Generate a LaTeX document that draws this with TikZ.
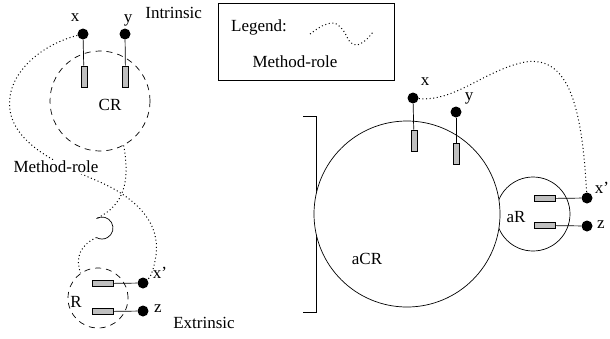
\documentclass[tikz,border=0pt]{standalone}
\usepackage{fontspec}
\setmainfont{Liberation Serif}
\usetikzlibrary{positioning}

\tikzset{
  dot/.style={circle, fill=black, inner sep=0pt, minimum size=11pt},
  vport/.style={rectangle, draw, fill=black!25, inner sep=0pt, minimum width=6pt, minimum height=21pt},
  hport/.style={rectangle, draw, fill=black!25, inner sep=0pt, minimum width=21pt, minimum height=6pt},
  role/.style={circle, draw, dash pattern=on 6pt off 5pt, inner sep=0pt},
  player/.style={circle, draw, fill=white, inner sep=0pt},
  method/.style={dash pattern=on 1pt off 2.6pt, line width=1pt},
  lbl/.style={inner sep=0pt}
}

\begin{document}
\begin{tikzpicture}[x=1pt, y=-1pt, line width=0.7pt, font=\fontsize{17}{20}\selectfont]
    \useasboundingbox (0,0) rectangle (610,338);

    % intrinsic role (left, top)
    \node[role, minimum size=100pt] (cr) at (100,101) {};
    \node[lbl] (crlab) at (110,105) {CR};
    \node[dot] (xl) at (83,34) {};
    \node[dot] (yl) at (125,34) {};
    \node[vport] (pxl) at (84,76.5) {};
    \node[vport] (pyl) at (125.5,76.5) {};
    \draw (xl) -- (pxl);
    \draw (yl) -- (pyl);
    \node[lbl] (xllab) at (75,18) {x};
    \node[lbl] (yllab) at (128,20) {y};
    \node[lbl, anchor=west] (intr) at (145,13) {Intrinsic};

    % extrinsic role (left, bottom)
    \node[role, minimum size=60pt] (rr) at (98,298) {};
    \node[lbl] (rlab) at (76,302) {R};
    \node[hport] (pxpl) at (102.5,283.5) {};
    \node[hport] (pzl) at (102.5,311.5) {};
    \node[dot] (xpl) at (143,283) {};
    \node[dot] (zl) at (143,311) {};
    \draw (pxpl) -- (xpl);
    \draw (pzl) -- (zl);
    \node[lbl] (xpllab) at (160,273) {x'};
    \node[lbl] (zllab) at (158,309) {z};
    \node[lbl] (extr) at (204,323) {Extrinsic};

    % socket between the two roles
    \coordinate (sockin) at (96.5,218.5);
    \coordinate (sockout) at (96.5,237.5);
    \draw (sockin) arc[start angle=120, end angle=-120, radius=11pt];

    % method-role links
    \draw[method] (xl) .. controls (40,45) and (5,75) .. (10,110)
        .. controls (15,145) and (60,165) .. (100,182)
        .. controls (140,200) and (160,225) .. (156,255)
        .. controls (154,270) and (150,278) .. (xpl);
    \draw[method] (cr.-62) .. controls (130,180) and (125,205) .. (sockin);
    \draw[method] (sockout) .. controls (80,245) and (75,258) .. (rr.125);
    \node[lbl, fill=white, inner sep=1pt] (mrlab) at (56,167) {Method-role};

    % legend
    \node[draw, minimum width=176pt, minimum height=77pt] (legend) at (306,41.5) {};
    \node[lbl] (leglab) at (259,27) {Legend:};
    \node[lbl] (legmr) at (295,62) {Method-role};
    \draw[method] plot[smooth] coordinates {(310,34) (322,26) (334,23) (343,30) (350,42) (357,45) (366,40) (373,32)};

    % bound composite role (right)
    \draw (303,116) -- (316,116) -- (316,312) -- (303,312);
    \node[player, minimum size=74pt] (ar) at (533,214) {};
    \node[player, minimum size=186pt] (acr) at (407,214) {};
    \node[lbl] (acrlab) at (367,259) {aCR};
    \node[lbl] (arlab) at (516,217) {aR};
    \node[dot] (xr) at (413,98) {};
    \node[dot] (yr) at (456,112) {};
    \node[vport] (pxr) at (414,140.5) {};
    \node[vport] (pyr) at (456,154) {};
    \draw (xr) -- (pxr);
    \draw (yr) -- (pyr);
    \node[lbl] (xrlab) at (425,82) {x};
    \node[lbl] (yrlab) at (469,98) {y};
    \node[hport] (pxpr) at (545,198.5) {};
    \node[hport] (pzr) at (545,225.5) {};
    \node[dot] (xpr) at (587,198) {};
    \node[dot] (zr) at (587,226) {};
    \draw (pxpr) -- (xpr);
    \draw (pzr) -- (zr);
    \node[lbl] (xprlab) at (602,188) {x'};
    \node[lbl] (zrlab) at (601,225) {z};
    \draw[method] (xr) .. controls (455,102) and (485,70) .. (525,62)
        .. controls (570,55) and (582,110) .. (xpr);
\end{tikzpicture}
\end{document}
